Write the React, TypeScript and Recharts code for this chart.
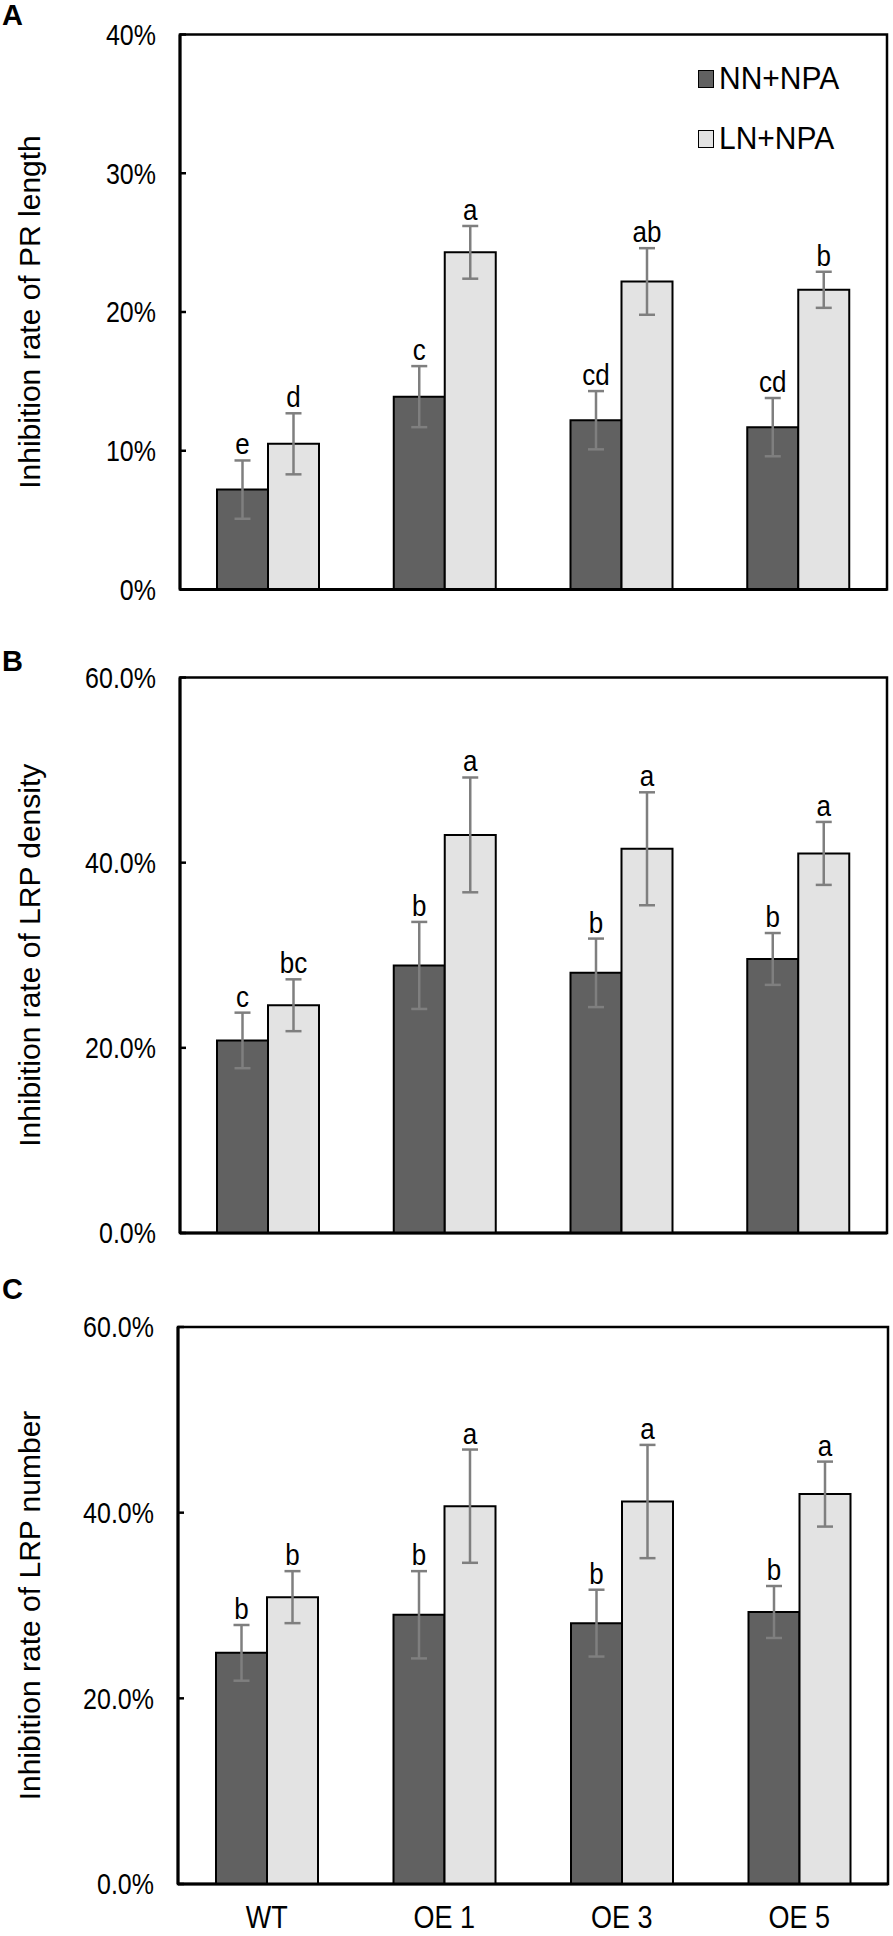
import React from 'react';
import { BarChart, Bar, XAxis, YAxis, ErrorBar, LabelList, Legend, ReferenceArea } from 'recharts';

const categories = ['WT', 'OE 1', 'OE 3', 'OE 5'];
const seriesNames = ['NN+NPA', 'LN+NPA'];

// Panel A: inhibition rate of PR length (%)
const aNN = [7.2, 13.9, 12.2, 11.7];
const aNNErr = [2.1, 2.2, 2.1, 2.1];
const aLN = [10.5, 24.3, 22.2, 21.6];
const aLNErr = [2.2, 1.9, 2.4, 1.3];
const aNNLetters = ['e', 'c', 'cd', 'cd'];
const aLNLetters = ['d', 'a', 'ab', 'b'];
const aTicks = [0, 10, 20, 30, 40];

// Panel B: inhibition rate of LRP density (%)
const bNN = [20.8, 28.9, 28.1, 29.6];
const bNNErr = [3.0, 4.7, 3.7, 2.8];
const bLN = [24.6, 43.0, 41.5, 41.0];
const bLNErr = [2.8, 6.2, 6.1, 3.4];
const bNNLetters = ['c', 'b', 'b', 'b'];
const bLNLetters = ['bc', 'a', 'a', 'a'];
const bTicks = [0, 20, 40, 60];

// Panel C: inhibition rate of LRP number (%)
const cNN = [24.9, 29.0, 28.1, 29.3];
const cNNErr = [3.0, 4.7, 3.6, 2.8];
const cLN = [30.9, 40.7, 41.2, 42.0];
const cLNErr = [2.8, 6.1, 6.1, 3.5];
const cNNLetters = ['b', 'b', 'b', 'b'];
const cLNLetters = ['b', 'a', 'a', 'a'];
const cTicks = [0, 20, 40, 60];

const FONT = '"Liberation Sans", Arial, sans-serif';
const DARK = '#616161';
const LIGHT = '#e3e3e3';
const ERR = '#7f7f7f';
const SY = 1.15; // vertical stretch of the figure's text

const build = (nn: number[], nnErr: number[], ln: number[], lnErr: number[]) =>
  categories.map((name, i) => ({ name, nn: nn[i], nnErr: nnErr[i], ln: ln[i], lnErr: lnErr[i] }));

const makeLetterLabel = (letters: string[], values: number[], errs: number[]) => (props: any) => {
  const { x, y, width, height, index } = props;
  if (index == null) return null;
  const v = values[index];
  const pxPerUnit = v ? height / v : 0;
  const errPx = errs[index] * pxPerUnit;
  return (
    <text
      transform={`translate(${x + width / 2}, ${y - errPx - 6}) scale(1, ${SY})`}
      textAnchor="middle"
      fontFamily={FONT}
      fontSize={26}
      fill="#000"
    >
      {letters[index]}
    </text>
  );
};

const makeYTick = (fmt: (v: number) => string) => (props: any) => {
  const { x, y, payload } = props;
  return (
    <g>
      <line x1={x} x2={x + 6} y1={y} y2={y} stroke="#000" strokeWidth={2.5} />
      <text
        transform={`translate(${x - 24}, ${y + 10.3}) scale(1, ${SY})`}
        textAnchor="end"
        fontFamily={FONT}
        fontSize={25}
        fill="#000"
      >
        {fmt(payload.value)}
      </text>
    </g>
  );
};

const XTick = (props: any) => {
  const { x, y, payload } = props;
  return (
    <text
      transform={`translate(${x}, ${y + 44}) scale(1, ${SY})`}
      textAnchor="middle"
      fontFamily={FONT}
      fontSize={27}
      fill="#000"
    >
      {payload.value}
    </text>
  );
};

const YLabel = (props: any) => {
  const { viewBox, value } = props;
  const vb = viewBox || { x: 0, y: 0, width: 0, height: 0 };
  const cy = vb.y + vb.height / 2;
  return (
    <text
      transform={`translate(40, ${cy}) rotate(-90)`}
      textAnchor="middle"
      fontFamily={FONT}
      fontSize={30}
      fill="#000"
    >
      {value}
    </text>
  );
};

const LegendContent = (props: any) => {
  const payload = [...(props.payload || [])].sort(
    (a: any, b: any) => seriesNames.indexOf(a.value) - seriesNames.indexOf(b.value)
  );
  return (
    <div style={{ fontFamily: FONT }}>
      {payload.map((p: any, i: number) => (
        <div key={i} style={{ display: 'flex', alignItems: 'center', height: 60 }}>
          <div
            style={{
              width: 14,
              height: 16,
              background: p.color,
              border: '1.5px solid #000',
              marginRight: 5,
              flex: 'none',
            }}
          />
          <span
            style={{
              fontSize: 30,
              color: '#000',
              lineHeight: '30px',
              whiteSpace: 'nowrap',
              display: 'inline-block',
              transform: 'scale(1, 1.05)',
            }}
          >
            {p.value}
          </span>
        </div>
      ))}
    </div>
  );
};

type PanelProps = {
  data: any[];
  height: number;
  margin: { top: number; right: number; bottom: number; left: number };
  yAxisWidth: number;
  yMax: number;
  ticks: number[];
  fmt: (v: number) => string;
  yLabel: string;
  showX: boolean;
  xHeight: number;
  legend?: boolean;
  nnLetters: string[];
  lnLetters: string[];
  nn: number[];
  nnErr: number[];
  ln: number[];
  lnErr: number[];
};

const Panel = (p: PanelProps) => (
  <BarChart
    width={893}
    height={p.height}
    data={p.data}
    margin={p.margin}
    barGap={0}
    barSize={51}
  >
    <ReferenceArea
      y1={0}
      y2={p.yMax}
      fill="none"
      fillOpacity={0}
      stroke="#000"
      strokeWidth={2.5}
      ifOverflow="visible"
    />
    <XAxis
      dataKey="name"
      height={p.xHeight}
      axisLine={{ stroke: '#000', strokeWidth: 3 }}
      tickLine={false}
      tickSize={0}
      tickMargin={0}
      tick={p.showX ? <XTick /> : false}
      interval={0}
    />
    <YAxis
      width={p.yAxisWidth}
      domain={[0, p.yMax]}
      ticks={p.ticks}
      interval={0}
      axisLine={{ stroke: '#000', strokeWidth: 3 }}
      tickLine={false}
      tickSize={0}
      tickMargin={0}
      tick={makeYTick(p.fmt)}
      label={<YLabel value={p.yLabel} />}
    />
    {p.legend && (
      <Legend
        layout="vertical"
        align="center"
        verticalAlign="middle"
        content={LegendContent}
        wrapperStyle={{ left: 698, top: 49, width: 190 }}
      />
    )}
    <Bar
      dataKey="nn"
      name={seriesNames[0]}
      fill={DARK}
      stroke="#000"
      strokeWidth={2}
      isAnimationActive={false}
    >
      <ErrorBar dataKey="nnErr" width={8} stroke={ERR} strokeWidth={2.5} direction="y" />
      <LabelList dataKey="nn" content={makeLetterLabel(p.nnLetters, p.nn, p.nnErr)} />
    </Bar>
    <Bar
      dataKey="ln"
      name={seriesNames[1]}
      fill={LIGHT}
      stroke="#000"
      strokeWidth={2}
      isAnimationActive={false}
    >
      <ErrorBar dataKey="lnErr" width={8} stroke={ERR} strokeWidth={2.5} direction="y" />
      <LabelList dataKey="ln" content={makeLetterLabel(p.lnLetters, p.ln, p.lnErr)} />
    </Bar>
  </BarChart>
);

const fmtInt = (v: number) => `${v}%`;
const fmtOne = (v: number) => `${v.toFixed(1)}%`;

const panelLetters = [
  { t: 'A', y: 25 },
  { t: 'B', y: 671 },
  { t: 'C', y: 1299 },
];

export default function App() {
  return (
    <div style={{ position: 'absolute', left: 0, top: 0, width: 893, height: 1936, background: '#fff' }}>
      <div style={{ position: 'absolute', left: 0, top: 0 }}>
        <Panel
          data={build(aNN, aNNErr, aLN, aLNErr)}
          height={640}
          margin={{ top: 34.5, right: 6, bottom: 20.5, left: 0 }}
          yAxisWidth={180}
          yMax={40}
          ticks={aTicks}
          fmt={fmtInt}
          yLabel="Inhibition rate of PR length"
          showX={false}
          xHeight={30}
          legend
          nnLetters={aNNLetters}
          lnLetters={aLNLetters}
          nn={aNN}
          nnErr={aNNErr}
          ln={aLN}
          lnErr={aLNErr}
        />
      </div>
      <div style={{ position: 'absolute', left: 0, top: 640 }}>
        <Panel
          data={build(bNN, bNNErr, bLN, bLNErr)}
          height={640}
          margin={{ top: 37.5, right: 6, bottom: 17, left: 0 }}
          yAxisWidth={180}
          yMax={60}
          ticks={bTicks}
          fmt={fmtOne}
          yLabel="Inhibition rate of LRP density"
          showX={false}
          xHeight={30}
          nnLetters={bNNLetters}
          lnLetters={bLNLetters}
          nn={bNN}
          nnErr={bNNErr}
          ln={bLN}
          lnErr={bLNErr}
        />
      </div>
      <div style={{ position: 'absolute', left: 0, top: 1280 }}>
        <Panel
          data={build(cNN, cNNErr, cLN, cLNErr)}
          height={656}
          margin={{ top: 47, right: 5, bottom: 0, left: 0 }}
          yAxisWidth={178}
          yMax={60}
          ticks={cTicks}
          fmt={fmtOne}
          yLabel="Inhibition rate of LRP number"
          showX={true}
          xHeight={52}
          nnLetters={cNNLetters}
          lnLetters={cLNLetters}
          nn={cNN}
          nnErr={cNNErr}
          ln={cLN}
          lnErr={cLNErr}
        />
      </div>
      <svg
        width={893}
        height={1936}
        style={{ position: 'absolute', left: 0, top: 0, pointerEvents: 'none' }}
      >
        {panelLetters.map((l) => (
          <text key={l.t} x={2} y={l.y} fontFamily={FONT} fontWeight="bold" fontSize={29} fill="#000">
            {l.t}
          </text>
        ))}
      </svg>
    </div>
  );
}
